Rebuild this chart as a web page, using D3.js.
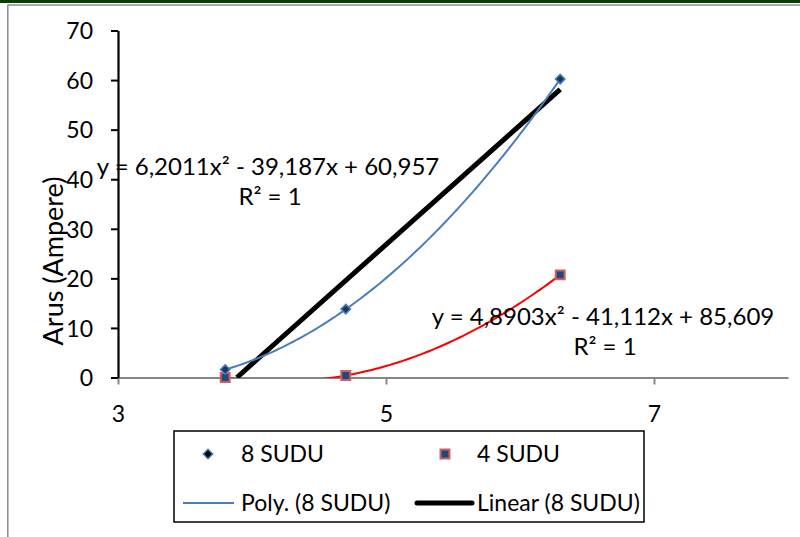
<!DOCTYPE html>
<html>
<head>
<meta charset="utf-8">
<script src="https://cdn.jsdelivr.net/npm/d3@7"></script>
<style>
  html, body { margin: 0; padding: 0; background: #fff; }
  svg { display: block; }
  text { font-family: Lato, "Open Sans", sans-serif; fill: #000; }
</style>
</head>
<body>
<svg id="chart" width="800" height="537"></svg>
<script>
// ---- data ----
const xValues8 = [3.8, 4.7, 6.3];
const yValues8 = [1.6, 13.8, 60.2];
const xValues4 = [3.8, 4.7, 6.3];
const yValues4 = [0.0, 0.4, 20.7];
const polyCoef8 = [6.2011, -39.187, 60.957];
const polyCoef4 = [4.8903, -41.112, 85.609];
const xTicks = [3, 5, 7];
const yTicks = [0, 10, 20, 30, 40, 50, 60, 70];
const seriesNames = ["8 SUDU", "4 SUDU", "Poly. (8 SUDU)", "Linear (8 SUDU)"];
const eqText8 = ["y = 6,2011x² - 39,187x + 60,957", "R² = 1"];
const eqText4 = ["y = 4,8903x² - 41,112x + 85,609", "R² = 1"];
const yTitle = "Arus (Ampere)";

const svg = d3.select("#chart");
const x = d3.scaleLinear().domain([3, 8]).range([118, 788]);
const y = d3.scaleLinear().domain([0, 70]).range([377.5, 30.5]);

// frame
svg.append("rect").attr("x", 0).attr("y", 0).attr("width", 800).attr("height", 3).attr("fill", "#0b3d0b");
svg.append("line").attr("x1", 7.5).attr("x2", 800).attr("y1", 5).attr("y2", 5).attr("stroke", "#8c8c8c").attr("stroke-width", 1.5);
svg.append("line").attr("x1", 7.8).attr("x2", 7.8).attr("y1", 5).attr("y2", 537).attr("stroke", "#8c8c8c").attr("stroke-width", 1.5);

// clip
svg.append("defs").append("clipPath").attr("id", "plotclip")
  .append("rect").attr("x", 118).attr("y", 20).attr("width", 670).attr("height", 358);

// x axis
const xAxis = svg.append("g").attr("transform", "translate(0,377.5)")
  .call(d3.axisBottom(x).tickValues(xTicks).tickSize(7).tickSizeOuter(0).tickFormat(d3.format("d")));
xAxis.select(".domain").attr("stroke", "#868686").attr("stroke-width", 2);
xAxis.selectAll(".tick line").attr("stroke", "#868686").attr("stroke-width", 2);
xAxis.selectAll(".tick text").attr("font-size", 23).attr("font-family", "Lato").attr("dy", 0).attr("y", 44).attr("fill", "#000");

// y axis
const yAxis = svg.append("g").attr("transform", "translate(118,0)")
  .call(d3.axisLeft(y).tickValues(yTicks).tickSize(7).tickSizeOuter(0));
yAxis.select(".domain").attr("stroke", "#000").attr("stroke-width", 2.2);
yAxis.selectAll(".tick line").attr("stroke", "#000").attr("stroke-width", 2);
yAxis.selectAll(".tick text").attr("font-size", 23).attr("font-family", "Lato").attr("x", -25).attr("dy", "0.36em").attr("fill", "#000");

// y title
svg.append("text").attr("transform", "translate(63,261) rotate(-90)")
  .attr("text-anchor", "middle").attr("font-size", 27).text(yTitle);

// linear regression of 8 SUDU
const mx = d3.mean(xValues8), my = d3.mean(yValues8);
const sxy = d3.sum(xValues8.map((v, i) => (v - mx) * (yValues8[i] - my)));
const sxx = d3.sum(xValues8.map(v => (v - mx) * (v - mx)));
const slope = sxy / sxx, icpt = my - slope * mx;
const x0lin = Math.max(d3.min(xValues8), -icpt / slope);
const x1lin = d3.max(xValues8);

const plot = svg.append("g").attr("clip-path", "url(#plotclip)");
plot.append("line")
  .attr("x1", x(x0lin)).attr("y1", y(slope * x0lin + icpt))
  .attr("x2", x(x1lin)).attr("y2", y(slope * x1lin + icpt))
  .attr("stroke", "#000").attr("stroke-width", 5);

const polyPts = (c, xs) => d3.range(0, 101).map(i => {
  const xv = d3.min(xs) + (d3.max(xs) - d3.min(xs)) * i / 100;
  return [xv, c[0] * xv * xv + c[1] * xv + c[2]];
});
const lineGen = d3.line().x(d => x(d[0])).y(d => y(d[1]));
plot.append("path").attr("d", lineGen(polyPts(polyCoef4, xValues4)))
  .attr("fill", "none").attr("stroke", "#ff0000").attr("stroke-width", 2);
plot.append("path").attr("d", lineGen(polyPts(polyCoef8, xValues8)))
  .attr("fill", "none").attr("stroke", "#4a7ebb").attr("stroke-width", 2);

// markers
const diamond = d3.symbol().type(d3.symbolSquare).size(45);
const square = d3.symbol().type(d3.symbolSquare).size(80);
svg.append("g").selectAll("path").data(xValues4.map((v, i) => [v, yValues4[i]])).join("path")
  .attr("transform", d => `translate(${x(d[0])},${y(d[1])})`)
  .attr("d", square).attr("fill", "#1f497d").attr("stroke", "#d06060").attr("stroke-width", 2);
svg.append("g").selectAll("path").data(xValues8.map((v, i) => [v, yValues8[i]])).join("path")
  .attr("transform", d => `translate(${x(d[0])},${y(d[1])}) rotate(45)`)
  .attr("d", diamond).attr("fill", "#1c3560").attr("stroke", "#4a7ebb").attr("stroke-width", 1.5);

// equations
function eq(lines, cx, by) {
  svg.append("text").attr("x", cx).attr("y", by).attr("text-anchor", "middle").attr("font-size", 24).text(lines[0]);
  svg.append("text").attr("x", cx + 2).attr("y", by + 30).attr("text-anchor", "middle").attr("font-size", 24).text(lines[1]);
}
eq(eqText8, 268, 175);
eq(eqText4, 603, 325);

// legend
const lg = svg.append("g");
lg.append("rect").attr("x", 174).attr("y", 431).attr("width", 470).attr("height", 91)
  .attr("fill", "#fff").attr("stroke", "#000").attr("stroke-width", 1.5);
lg.append("path").attr("transform", "translate(208,454) rotate(45)").attr("d", diamond)
  .attr("fill", "#000").attr("stroke", "#4a7ebb").attr("stroke-width", 1.5);
lg.append("path").attr("transform", "translate(445,454)").attr("d", square)
  .attr("fill", "#1f497d").attr("stroke", "#d06060").attr("stroke-width", 2);
lg.append("line").attr("x1", 183).attr("x2", 234).attr("y1", 503).attr("y2", 503)
  .attr("stroke", "#4a7ebb").attr("stroke-width", 2);
lg.append("line").attr("x1", 417).attr("x2", 472).attr("y1", 503).attr("y2", 503)
  .attr("stroke", "#000").attr("stroke-width", 5).attr("stroke-linecap", "round");
const lgText = [[241, 462, seriesNames[0]], [477, 462, seriesNames[1]], [241, 511, seriesNames[2]], [477, 511, seriesNames[3]]];
lg.selectAll("text.lt").data(lgText).join("text").attr("class", "lt")
  .attr("x", d => d[0]).attr("y", d => d[1]).attr("font-size", 23).text(d => d[2]);
</script>
</body>
</html>
